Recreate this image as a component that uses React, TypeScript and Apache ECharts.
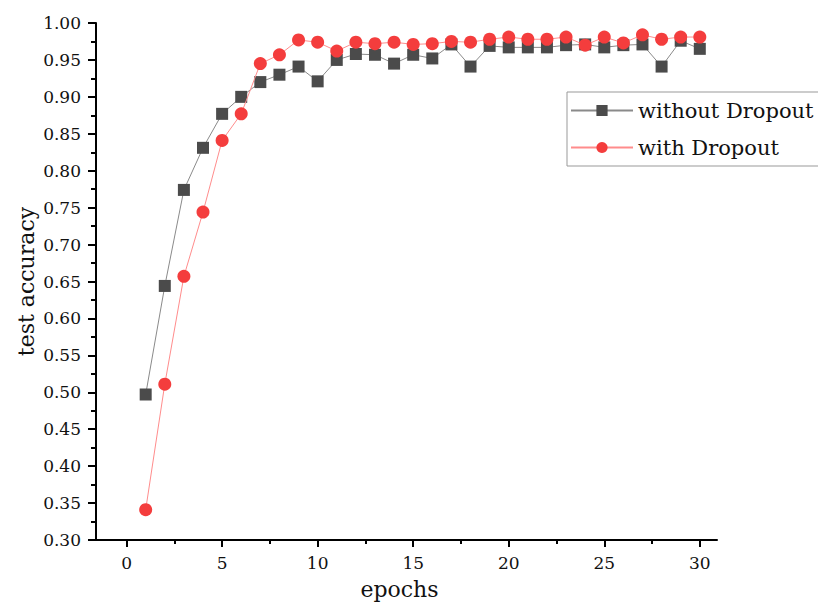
import React, { useEffect, useRef } from "react";
import * as echarts from "echarts";

const epochs = [1, 2, 3, 4, 5, 6, 7, 8, 9, 10, 11, 12, 13, 14, 15, 16, 17, 18, 19, 20, 21, 22, 23, 24, 25, 26, 27, 28, 29, 30];
const withoutDropout = [0.497, 0.644, 0.774, 0.831, 0.877, 0.900, 0.920, 0.930, 0.941, 0.921, 0.950, 0.958, 0.957, 0.945, 0.957, 0.952, 0.971, 0.941, 0.969, 0.967, 0.967, 0.967, 0.970, 0.971, 0.967, 0.970, 0.971, 0.941, 0.976, 0.965];
const withDropout = [0.341, 0.511, 0.657, 0.744, 0.841, 0.877, 0.945, 0.957, 0.977, 0.974, 0.962, 0.974, 0.972, 0.974, 0.971, 0.972, 0.975, 0.974, 0.978, 0.981, 0.978, 0.978, 0.981, 0.970, 0.981, 0.973, 0.984, 0.978, 0.981, 0.981];
const xMajorTicks = [0, 5, 10, 15, 20, 25, 30];
const xMinorTicks = [2.5, 7.5, 12.5, 17.5, 22.5, 27.5];
const seriesNames = ["without Dropout", "with Dropout"];

const FONT = "DejaVu Serif";

export default function App() {
  const ref = useRef<HTMLDivElement>(null);
  useEffect(() => {
    if (!ref.current) return;
    const chart = echarts.init(ref.current, null, { renderer: "svg" });
    const axisLineStyle = { color: "#000", width: 2 };
    chart.setOption({
      animation: false,
      backgroundColor: "#fff",
      grid: { left: 96, right: 101, top: 23, bottom: 64.5, containLabel: false },
      legend: {
        orient: "vertical",
        left: 567,
        top: 92,
        data: seriesNames,
        itemWidth: 62,
        itemHeight: 14,
        itemGap: 16,
        padding: [8, 40, 8, 3],
        borderColor: "#999",
        borderWidth: 1,
        textStyle: { fontFamily: FONT, fontSize: 21, color: "#111" },
      },
      xAxis: [
        {
          type: "value",
          min: -1.6,
          max: 30.9,
          name: "epochs",
          nameLocation: "middle",
          nameGap: 38,
          nameMoveOverlap: false,
          nameTextStyle: { fontFamily: FONT, fontSize: 22, color: "#111", padding: [0, 14, 0, 0] },
          splitLine: { show: false },
          axisLine: { show: true, onZero: false, lineStyle: axisLineStyle },
          axisTick: { show: true, inside: false, length: 7, customValues: xMajorTicks, lineStyle: { color: "#000", width: 2 } },
          axisLabel: {
            customValues: xMajorTicks,
            margin: 14,
            fontFamily: FONT,
            fontSize: 17,
            color: "#111",
          },
        },
        {
          type: "value",
          min: -1.6,
          max: 30.9,
          position: "bottom",
          offset: 0,
          splitLine: { show: false },
          axisLine: { show: false },
          axisTick: { show: true, inside: false, length: 4, customValues: xMinorTicks, lineStyle: { color: "#000", width: 2 } },
          axisLabel: { show: false },
        },
      ],
      yAxis: {
        type: "value",
        min: 0.3,
        max: 1.0,
        interval: 0.05,
        name: "test accuracy",
        nameLocation: "middle",
        nameGap: 59,
        nameMoveOverlap: false,
        nameTextStyle: { fontFamily: FONT, fontSize: 22, color: "#111" },
        splitLine: { show: false },
        axisLine: { show: true, onZero: false, lineStyle: axisLineStyle },
        axisTick: { show: true, inside: false, length: 8, lineStyle: { color: "#000", width: 2 } },
        minorTick: { show: true, splitNumber: 2, length: 5, lineStyle: { color: "#000", width: 2 } },
        minorSplitLine: { show: false },
        axisLabel: {
          margin: 15,
          fontFamily: FONT,
          fontSize: 17,
          color: "#111",
          formatter: (v: number) => v.toFixed(2),
        },
      },
      series: [
        {
          name: seriesNames[0],
          type: "line",
          xAxisIndex: 0,
          data: epochs.map((e, i) => [e, withoutDropout[i]]),
          symbol: "rect",
          symbolSize: 12,
          itemStyle: { color: "#4b4b4b" },
          lineStyle: { color: "#8a8a8a", width: 1 },
          z: 2,
        },
        {
          name: seriesNames[1],
          type: "line",
          xAxisIndex: 0,
          data: epochs.map((e, i) => [e, withDropout[i]]),
          symbol: "circle",
          symbolSize: 13,
          itemStyle: { color: "#f43d3d" },
          lineStyle: { color: "#ff8c8c", width: 1 },
          z: 3,
        },
      ],
    });
    return () => chart.dispose();
  }, []);
  return <div ref={ref} style={{ position: "absolute", left: 0, top: 0, width: 818, height: 605 }} />;
}
